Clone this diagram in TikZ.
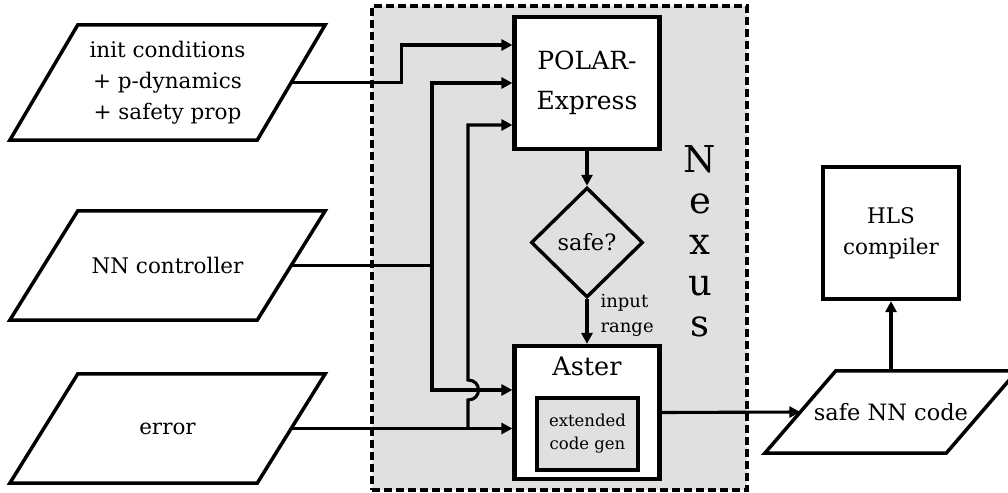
\documentclass[tikz,border=0pt]{standalone}
\usepackage{fontspec}
\setmainfont{DejaVu Serif}
\usetikzlibrary{arrows.meta,shapes.geometric}

% outline of a slanted input/output block around a (borderless) node
\newcommand\drawpara[2]{%
  \draw[para] ([xshift=-#2]#1.south west) -- ([xshift=-#2]#1.south east)
    -- ([xshift=#2]#1.north east) -- ([xshift=#2]#1.north west) -- cycle;}

\begin{document}
\begin{tikzpicture}[x=1pt,y=-1pt,
  conn/.style={line width=3.1pt},
  arr/.style={conn,-{Triangle[length=11pt,width=11pt]}},
  para/.style={line width=3.5pt},
  paranode/.style={inner sep=0pt,minimum width=247pt,align=center,
    font=\fontsize{21.5}{31}\selectfont},
  box/.style={draw,line width=4.2pt,fill=white,inner sep=0pt,align=center},
  nexusbg/.style={draw,line width=3.2pt,dash pattern=on 8pt off 4pt,
    fill=black!12,inner sep=0pt},
]
\useasboundingbox (0,0) rectangle (1008,492);

% Nexus frame
\node[nexusbg,minimum width=375pt,minimum height=484pt] (nexus) at (559.5,248) {};
\node[inner sep=0pt,align=center,font=\fontsize{37}{41}\selectfont] (nexustitle)
  at (700,241) {N\\e\\x\\u\\s};

% inputs
\node[paranode,minimum height=115pt] (in1) at (167.5,82.5)
  {init conditions\\+ p-dynamics\\+ safety prop};
\drawpara{in1}{34pt}
\node[paranode,minimum height=109pt] (in2) at (167.5,265.5) {NN controller};
\drawpara{in2}{34pt}
\node[paranode,minimum height=109pt] (in3) at (167.5,428.5) {error};
\drawpara{in3}{34pt}

% verification and code generation
\node[box,minimum width=145pt,minimum height=132pt,
  font=\fontsize{25}{40}\selectfont] (polar) at (587,83) {POLAR-\\Express};
\node[draw,diamond,line width=3.4pt,inner sep=0pt,minimum width=112pt,
  minimum height=110pt,font=\fontsize{22.5}{26}\selectfont] (safe) at (587,242.5) {safe?};
\node[box,minimum width=145pt,minimum height=133pt] (aster) at (587,412.5) {};
\node[anchor=base,inner sep=0pt,font=\fontsize{25.5}{30}\selectfont] (astertitle)
  at ([yshift=-32pt]aster.north) {Aster};
\node[draw,line width=4.6pt,fill=black!12,inner sep=0pt,align=center,
  minimum width=101pt,minimum height=72pt,font=\fontsize{16.5}{23}\selectfont]
  (codegen) at (587.5,434) {extended\\code gen};

% outputs
\node[paranode,minimum width=181pt,minimum height=82pt,
  font=\fontsize{22.5}{26}\selectfont] (safenn) at (891,412) {safe NN code};
\drawpara{safenn}{35.5pt}
\node[box,minimum width=136pt,minimum height=132pt,
  font=\fontsize{21.5}{31}\selectfont] (hls) at (891,233) {HLS\\compiler};

% connectors
\coordinate (nnsplit) at (432,0 |- in2.east);
\coordinate (errsplit) at (468,0 |- in3.east);
\coordinate (nnaster) at ([yshift=22.5pt]aster.west);
\coordinate (hop) at (errsplit |- nnaster);

\draw[arr] (in1.east) -- ++(110,0) |- ([yshift=38pt]polar.west);
\draw[conn] (in2.east) -- (nnsplit);
\draw[arr] (nnsplit) |- (polar.west);
\draw[arr] (nnsplit) |- (nnaster);
\draw[arr] (in3.east) -- (in3.east -| aster.west);
\draw[arr] (errsplit) -- ([yshift=-10pt]hop)
  .. controls ([xshift=14pt,yshift=-10pt]hop) and ([xshift=14pt,yshift=10pt]hop)
  .. ([yshift=10pt]hop) |- ([yshift=-42pt]polar.west);

\draw[arr] (polar) -- (safe);
\draw[arr] (safe) -- node[midway,anchor=west,inner sep=0pt,xshift=12pt,yshift=6pt,
  align=left,font=\fontsize{18}{25}\selectfont] (rangelbl) {input\\range} (aster);
\draw[arr] (aster.east) -- (safenn.west);
\draw[arr] (safenn.north) -- (hls.south);
\end{tikzpicture}
\end{document}
